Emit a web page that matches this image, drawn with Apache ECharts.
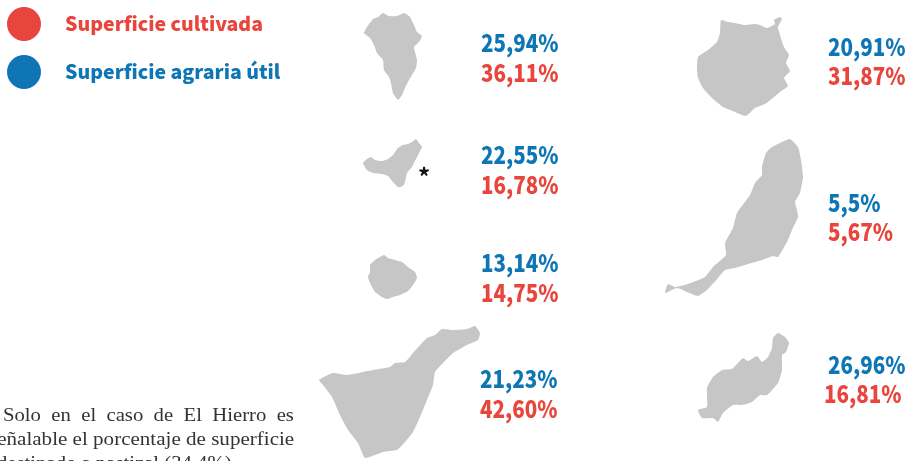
<!DOCTYPE html>
<html>
<head>
<meta charset="utf-8">
<style>html,body{margin:0;padding:0;background:#fff}#chart{width:911px;height:461px}</style>
<script src="https://cdn.jsdelivr.net/npm/echarts@6/dist/echarts.min.js"></script>
</head>
<body>
<div id="chart"></div>
<script>
// Canarias: % de superficie por isla
const islands = ['La Palma', 'Gran Canaria', 'El Hierro', 'Fuerteventura', 'La Gomera', 'Lanzarote', 'Tenerife'];
const superficieUtil = ['25,94%', '20,91%', '22,55%', '5,5%', '13,14%', '26,96%', '21,23%'];
const superficieCultivada = ['36,11%', '31,87%', '16,78%', '5,67%', '14,75%', '16,81%', '42,60%'];

// donde va cada cifra (misma orden que islands)
const utilX = [481, 828, 481, 828, 481, 828, 480];
const utilY = [43, 47, 155, 203, 263, 365, 379];
const cultivadaX = [481, 828, 481, 828, 481, 824, 480];
const cultivadaY = [73, 76, 185, 232, 293, 394, 409];

// contornos
const laPalma = [[383,13],[389,16],[397,16],[404,13],[410,17],[414,25],[417,32],[422,36],[419,42],[414,47],[417,60],[416,68],[412,75],[409,80],[405,88],[402,95],[398,100],[393,93],[391,83],[389,77],[384,70],[383,60],[377,53],[374,45],[370,38],[364,33],[367,27],[373,19],[378,17]];
const elHierro = [[416,139],[419,143],[422,147],[419,153],[416,159],[412,167],[407,173],[405,182],[403,186],[398,187],[393,182],[388,176],[382,174],[373,173],[367,170],[363,163],[367,159],[371,157],[375,160],[382,161],[388,159],[393,155],[398,148],[403,145],[408,144],[412,142]];
const laGomera = [[384,255],[388,258],[395,260],[402,262],[408,267],[415,272],[417,278],[413,285],[408,291],[400,295],[393,297],[387,299],[382,297],[375,292],[370,283],[368,277],[370,272],[370,265],[375,260]];
const tenerife = [[475,326],[480,333],[478,340],[467,345],[453,353],[443,363],[435,372],[433,385],[427,400],[420,417],[413,432],[405,442],[397,450],[383,452],[365,458],[358,443],[348,430],[340,415],[332,397],[323,385],[319,380],[333,373],[347,375],[363,372],[373,370],[390,367],[395,363],[405,362],[413,353],[422,343],[427,338],[435,335],[442,329],[453,330],[467,329]];
const granCanaria = [[721,20],[728,22],[735,23],[745,25],[755,24],[760,25],[767,28],[775,24],[774,20],[780,17],[782,19],[778,27],[780,35],[784,47],[789,55],[786,63],[790,71],[784,78],[788,86],[780,92],[773,98],[765,104],[755,108],[746,116],[735,112],[723,107],[712,98],[703,88],[698,78],[697,70],[698,57],[708,50],[717,42],[720,33]];
const fuerteventura = [[790,139],[798,147],[801,160],[803,177],[800,193],[795,202],[797,210],[798,217],[792,230],[787,242],[778,257],[773,256],[762,260],[745,265],[735,268],[725,270],[718,278],[707,290],[698,296],[687,292],[677,288],[665,293],[668,284],[675,287],[688,284],[705,277],[713,267],[726,255],[725,243],[733,228],[737,213],[750,195],[755,183],[762,175],[762,167],[766,153],[772,147],[782,142]];
const lanzarote = [[778,333],[785,337],[789,343],[786,352],[782,355],[782,370],[778,383],[767,395],[760,395],[752,402],[742,405],[733,405],[723,413],[718,422],[713,418],[702,418],[698,410],[707,407],[707,388],[713,377],[722,370],[732,369],[743,358],[748,361],[757,356],[762,362],[768,357],[772,348],[773,338]];
const outlines = [laPalma, granCanaria, elHierro, fuerteventura, laGomera, lanzarote, tenerife];

const footnote = ['Solo  en  el  caso  de  El  Hierro  es', 'señalable el porcentaje de superficie', 'destinado a pastizal (34,4%)'];

const sansFont = '"Noto Sans CJK SC", "Noto Sans", sans-serif';
const serifFont = '"Liberation Serif", serif';
const red = '#e8453c';
const blue = '#0f76b6';

const echart = echarts.init(document.getElementById('chart'));

// cifras: el original es una letra condensada, se estrecha con scaleX
function labelSeries(name, color, xs, ys, texts) {
    return {
        type: 'custom',
        name: name,
        silent: true,
        clip: false,
        itemStyle: { color: color },
        encode: { x: 0, y: 1 },
        data: texts.map((t, i) => [xs[i], ys[i], i]),
        renderItem: (params, api) => {
            const pos = api.coord([api.value(0), api.value(1)]);
            return {
                type: 'text',
                x: pos[0],
                y: pos[1],
                scaleX: 0.855,
                style: {
                    text: texts[api.value(2)],
                    fill: color,
                    font: '900 24px ' + sansFont,
                    verticalAlign: 'middle'
                }
            };
        }
    };
}

const option = {
    animation: false,
    backgroundColor: '#fff',
    grid: { left: 0, right: 0, top: 0, bottom: 0 },
    xAxis: { type: 'value', min: 0, max: 911, show: false },
    yAxis: { type: 'value', min: 0, max: 461, inverse: true, show: false },
    legend: {
        orient: 'vertical',
        left: 2,
        top: 2,
        itemWidth: 34,
        itemHeight: 34,
        itemGap: 14,
        icon: 'circle',
        selectedMode: false,
        data: [
            { name: 'Superficie cultivada', textStyle: { color: red } },
            { name: 'Superficie agraria útil', textStyle: { color: blue } }
        ],
        textStyle: {
            fontFamily: sansFont,
            fontWeight: 900,
            fontSize: 19.5,
            padding: [0, 0, 4, 19]
        }
    },
    series: [
        {
            type: 'custom',
            name: 'Islas',
            silent: true,
            clip: false,
            data: islands.map((n, i) => [i]),
            encode: { x: 0 },
            renderItem: (params, api) => {
                const pts = outlines[api.value(0)].map(p => api.coord(p));
                return { type: 'polygon', shape: { points: pts, smooth: 0.15 }, style: { fill: '#c6c6c6' } };
            }
        },
        labelSeries('Superficie cultivada', red, cultivadaX, cultivadaY, superficieCultivada),
        labelSeries('Superficie agraria útil', blue, utilX, utilY, superficieUtil)
    ],
    graphic: [
        { type: 'text', left: 418, top: 165, style: { text: '*', fill: '#111', font: '700 24px "Noto Sans CJK SC"' } },
        { type: 'text', x: 3, y: 416, scaleX: 1.15, style: { text: footnote[0], fill: '#333', font: '18px ' + serifFont, verticalAlign: 'middle' } },
        { type: 'text', x: -11, y: 440, scaleX: 1.17, style: { text: footnote[1], fill: '#333', font: '18px ' + serifFont, verticalAlign: 'middle' } },
        { type: 'text', x: -3, y: 464, scaleX: 1.15, style: { text: footnote[2], fill: '#333', font: '18px ' + serifFont, verticalAlign: 'middle' } }
    ]
};
echart.setOption(option);
</script>
</body>
</html>
